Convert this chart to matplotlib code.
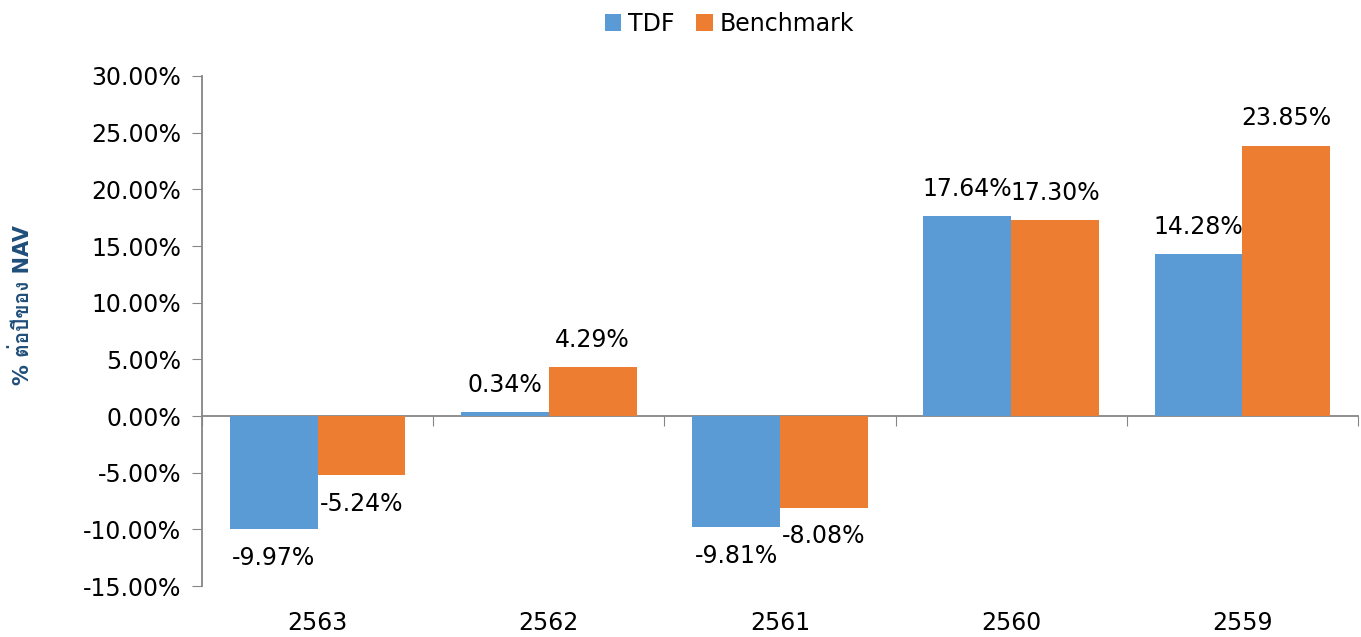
import matplotlib
matplotlib.use("Agg")
import matplotlib.pyplot as plt
from matplotlib import font_manager
from matplotlib.ft2font import FT2Font
import numpy as np

# --- data ---
years = ["2563", "2562", "2561", "2560", "2559"]
tdf = [-9.97, 0.34, -9.81, 17.64, 14.28]
benchmark = [-5.24, 4.29, -8.08, 17.30, 23.85]
yticks = [-15, -10, -5, 0, 5, 10, 15, 20, 25, 30]

BLUE = "#5B9BD5"
ORANGE = "#ED7D31"
GRAY = "#868686"
FS = 17


def find_thai_family():
    # look for any installed font that covers Thai letters
    for f in font_manager.fontManager.ttflist:
        try:
            cmap = FT2Font(f.fname).get_charmap()
        except Exception:
            continue
        if 0x0E15 in cmap and 0x0E07 in cmap:
            return f.name
    return None


thai = find_thai_family()
label_fams = ["DejaVu Sans"] + ([thai] if thai else [])

plt.rcParams["font.family"] = ["DejaVu Sans"]

fig = plt.figure(figsize=(13.61, 6.37), dpi=100)
ax = fig.add_axes([0.1484, 0.080, 0.8494, 0.8007])

x = np.arange(len(years))
w = 0.38
b1 = ax.bar(x - w / 2, tdf, w, color=BLUE, label="TDF")
b2 = ax.bar(x + w / 2, benchmark, w, color=ORANGE, label="Benchmark")

fmt = lambda v: f"{v:.2f}%"
for bars, vals in [(b1, tdf), (b2, benchmark)]:
    for bar, v in zip(bars, vals):
        ax.annotate(fmt(v), (bar.get_x() + bar.get_width() / 2, v),
                    xytext=(0, 11 if v >= 0 else -12), textcoords="offset points",
                    ha="center", va="bottom" if v >= 0 else "top", fontsize=FS)

ymin, ymax = -15, 30
ax.set_ylim(ymin, ymax)
ax.set_xlim(-0.5, len(years) - 0.5)
ax.set_yticks(yticks)
ax.set_yticklabels([f"{t:.2f}%" for t in yticks], fontsize=FS)
ax.tick_params(axis="y", length=7, color=GRAY, pad=8)

# category labels at the bottom, no tick marks
ax.set_xticks(x)
ax.set_xticklabels(years, fontsize=FS)
ax.tick_params(axis="x", length=0, pad=18)

for s in ["top", "right", "bottom"]:
    ax.spines[s].set_visible(False)
ax.spines["left"].set_color(GRAY)
ax.spines["left"].set_linewidth(1.3)

# zero line with category boundary ticks
zero_loc = (0 - ymin) / (ymax - ymin)
sec = ax.secondary_xaxis(zero_loc)
sec.set_xticks(np.arange(len(years) + 1) - 0.5)
sec.set_xticklabels([])
sec.tick_params(length=7, color=GRAY, direction="out")
sec.spines["bottom"].set_color(GRAY)
sec.spines["bottom"].set_linewidth(1.3)

ax.set_ylabel("% ต่อปีของ NAV", fontsize=15, fontweight="bold",
              color="#1F4E79", family=label_fams)
ax.yaxis.set_label_coords(-0.146, 0.55)

fig.legend(handles=[b1, b2], loc="upper center", bbox_to_anchor=(0.536, 1.015),
           ncol=2, frameon=False, fontsize=FS, handlelength=0.7,
           handleheight=0.7, handletextpad=0.3, columnspacing=0.9)

fig.savefig("out.png", dpi=100)
